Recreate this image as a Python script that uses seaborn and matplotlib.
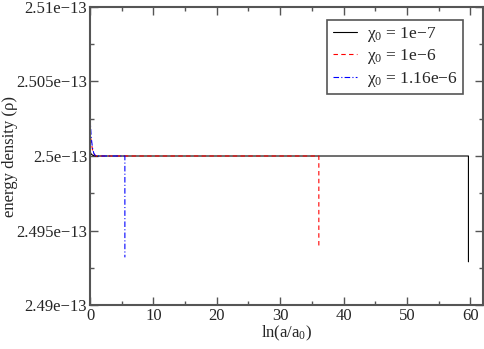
import numpy as np
import pandas as pd
import matplotlib
matplotlib.use("Agg")
import matplotlib.pyplot as plt
import seaborn as sns

# chi0 = 1e-7
x_a = [0.0, 0.2, 0.5, 1.0, 59.7, 59.7]
rho_a = [2.5003e-13, 2.50012e-13, 2.50003e-13, 2.5e-13, 2.5e-13, 2.4929e-13]
# chi0 = 1e-6
x_b = [0.0, 0.2, 0.4, 0.6, 0.8, 1.0, 36.1, 36.1]
rho_b = [2.5017e-13, 2.5009e-13, 2.50042e-13, 2.50015e-13, 2.50004e-13, 2.5e-13, 2.5e-13, 2.4938e-13]
# chi0 = 1.16e-6
x_c = [0.0, 0.2, 0.4, 0.6, 0.8, 1.0, 5.5, 5.5]
rho_c = [2.50255e-13, 2.5012e-13, 2.50052e-13, 2.50018e-13, 2.50005e-13, 2.5e-13, 2.5e-13, 2.4932e-13]

labels = ["χ$_0$ = 1e−7", "χ$_0$ = 1e−6", "χ$_0$ = 1.16e−6"]
yticks = [2.49e-13, 2.495e-13, 2.5e-13, 2.505e-13, 2.51e-13]
ytick_labels = ["2.49e−13", "2.495e−13", "2.5e−13", "2.505e−13", "2.51e−13"]
xticks = [0, 10, 20, 30, 40, 50, 60]

sns.set_style("ticks")
plt.rcParams["font.family"] = ["Liberation Serif", "DejaVu Serif"]
plt.rcParams["mathtext.fontset"] = "custom"
plt.rcParams["mathtext.rm"] = "Liberation Serif"
plt.rcParams["mathtext.it"] = "Liberation Serif:italic"

fig = plt.figure(figsize=(4.85, 3.49), dpi=100)
ax = fig.add_axes([0.1856, 0.126, 0.8103, 0.854])

sns.lineplot(x=x_a, y=rho_a, estimator=None, sort=False, color="black",
             linewidth=0.8, label=labels[0], ax=ax)
sns.lineplot(x=x_b, y=rho_b, estimator=None, sort=False, color="red",
             linewidth=0.8, linestyle=(0, (4, 3)), label=labels[1], ax=ax)
sns.lineplot(x=x_c, y=rho_c, estimator=None, sort=False, color="blue",
             linewidth=0.8, linestyle=(0, (5, 2, 1, 2)), label=labels[2], ax=ax)

ax.set_xlim(0, 62)
ax.set_ylim(2.49e-13, 2.51e-13)
ax.set_xticks(xticks)
ax.set_xticklabels([str(t) for t in xticks])
ax.set_xticks(np.arange(5, 62, 10), minor=True)
ax.set_yticks(yticks)
ax.set_yticklabels(ytick_labels)
ax.set_yticks([2.4925e-13, 2.4975e-13, 2.5025e-13, 2.5075e-13], minor=True)
ax.tick_params(which="both", direction="in", top=True, right=True,
               labelsize=12, color="#555555", pad=2)
ax.tick_params(which="major", length=6, width=1)
ax.tick_params(which="minor", length=3, width=1)
for s in ax.spines.values():
    s.set_color("#555555")
    s.set_linewidth(1.5)

ax.set_xlabel("ln(a/a$_0$)", fontsize=12, labelpad=0)
ax.set_ylabel("energy density (ρ)", fontsize=12)
ax.yaxis.set_label_coords(-0.183, 0.5)

leg = ax.legend(loc="upper right", bbox_to_anchor=(0.95, 0.957), fontsize=12.5,
                frameon=True, fancybox=False, handlelength=1.4,
                borderpad=0.3, labelspacing=0.2, handletextpad=0.6,
                borderaxespad=0)
leg.get_frame().set_edgecolor("#555555")
leg.get_frame().set_linewidth(1.2)
leg.get_frame().set_alpha(1)

fig.savefig("out.png", dpi=100)
